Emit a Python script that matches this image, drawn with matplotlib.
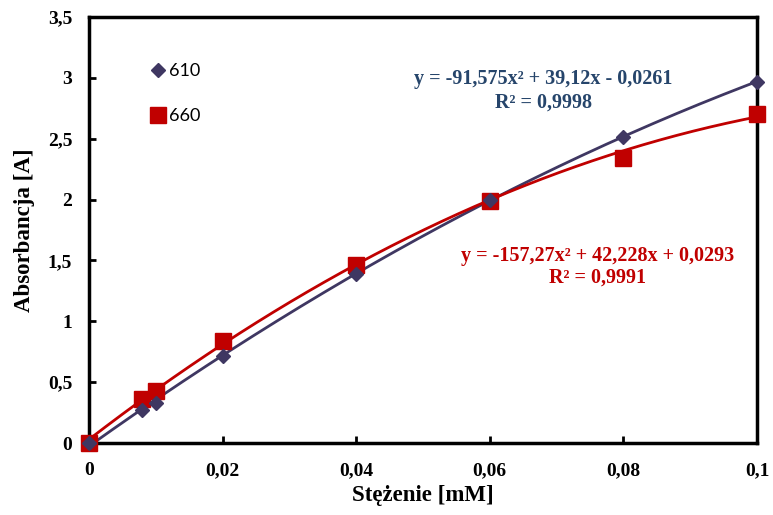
import numpy as np
import matplotlib.pyplot as plt
from matplotlib.ticker import FuncFormatter, MultipleLocator

# dane
stezenie = [0, 0.008, 0.01, 0.02, 0.04, 0.06, 0.08, 0.1]
abs_610 = [0, 0.27, 0.33, 0.715, 1.385, 2.0, 2.51, 2.97]
abs_660 = [0, 0.36, 0.43, 0.84, 1.465, 1.99, 2.34, 2.70]

# wspolczynniki trendu (z rownan na wykresie)
coef_610 = [-91.575, 39.12, -0.0261]
coef_660 = [-157.27, 42.228, 0.0293]

kolor_610 = '#3f3762'
kolor_660 = '#c00000'
kolor_rown_610 = '#26456b'

serif = ['Liberation Serif', 'DejaVu Serif']
sans = ['Lato', 'DejaVu Sans']


def przecinek(v, pos):
    s = ('%.2f' % v).rstrip('0').rstrip('.')
    return s.replace('.', ',')


fig = plt.figure(figsize=(7.73, 5.15), dpi=100)
ax = fig.add_axes([0.1151, 0.1398, 0.8642, 0.8272])

xs = np.linspace(0, 0.1, 200)
ax.plot(xs, np.polyval(coef_610, xs), color=kolor_610, lw=2)
ax.plot(xs, np.polyval(coef_660, xs), color=kolor_660, lw=2)
ax.plot(stezenie, abs_610, ls='none', marker='D', ms=7, color=kolor_610,
        label='610', zorder=4, clip_on=False)
ax.plot(stezenie, abs_660, ls='none', marker='s', ms=11, color=kolor_660,
        label='660', zorder=3, clip_on=False)

ax.set_xlim(0, 0.1)
ax.set_ylim(0, 3.5)
ax.xaxis.set_major_locator(MultipleLocator(0.02))
ax.yaxis.set_major_locator(MultipleLocator(0.5))
ax.xaxis.set_major_formatter(FuncFormatter(przecinek))
ax.yaxis.set_major_formatter(FuncFormatter(przecinek))
ax.tick_params(direction='in', length=5, width=2, labelsize=14)
ax.tick_params(axis='x', pad=14)
ax.tick_params(axis='y', pad=12)
for lab in ax.get_xticklabels() + ax.get_yticklabels():
    lab.set_fontfamily(serif)
    lab.set_fontweight('bold')
for sp in ax.spines.values():
    sp.set_linewidth(2.5)

ax.set_xlabel('Stężenie [mM]', fontsize=16.5, fontweight='bold', family=serif, labelpad=4)
ax.set_ylabel('Absorbancja [A]', fontsize=16.5, fontweight='bold', family=serif, labelpad=9)

leg = ax.legend(loc='upper left', bbox_to_anchor=(0.065, 0.93), frameon=False,
                prop={'family': sans, 'size': 13}, handletextpad=0.1,
                labelspacing=1.6, handlelength=1.0)

ax.text(0.068, 2.99, 'y = -91,575x² + 39,12x - 0,0261', color=kolor_rown_610,
        fontsize=14.5, fontweight='bold', family=serif, ha='center', va='center')
ax.text(0.068, 2.80, 'R² = 0,9998', color=kolor_rown_610,
        fontsize=14.5, fontweight='bold', family=serif, ha='center', va='center')
ax.text(0.0761, 1.54, 'y = -157,27x² + 42,228x + 0,0293', color=kolor_660,
        fontsize=14.5, fontweight='bold', family=serif, ha='center', va='center')
ax.text(0.0761, 1.36, 'R² = 0,9991', color=kolor_660,
        fontsize=14.5, fontweight='bold', family=serif, ha='center', va='center')

fig.savefig('out.png', dpi=100)
